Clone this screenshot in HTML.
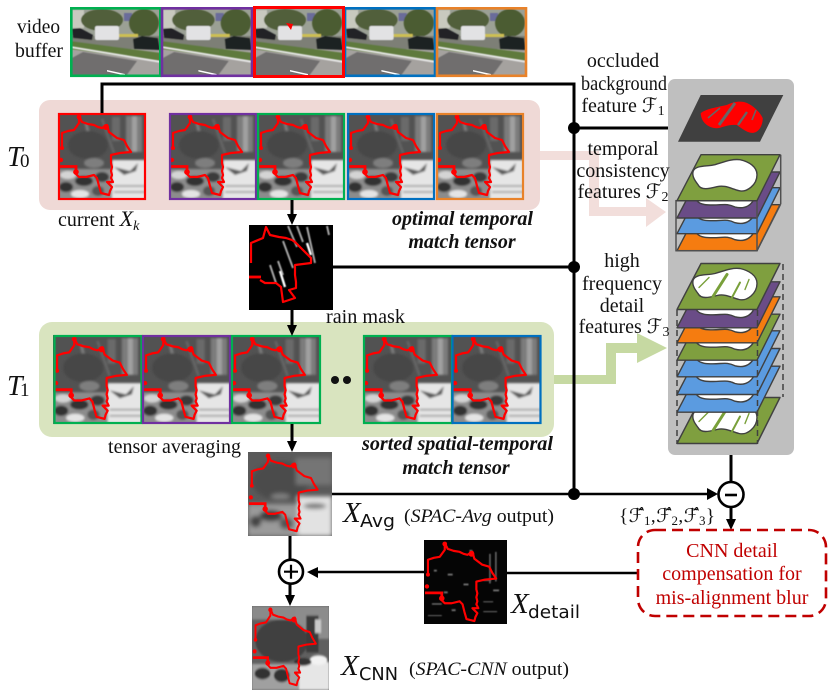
<!DOCTYPE html>
<html>
<head>
<meta charset="utf-8">
<style>
html,body{margin:0;padding:0;background:#fff}
svg{display:block}
text{font-family:"Liberation Serif","DejaVu Serif",serif;font-size:20px;fill:#111}
.bi{font-weight:bold;font-style:italic;font-size:20px}
.i{font-style:italic}
.f{font-family:"Liberation Serif","DejaVu Sans",serif}
.sub{font-family:"DejaVu Sans","Liberation Sans",sans-serif}
.r{fill:#c00000}
</style>
</head>
<body>
<svg width="832" height="698" viewBox="0 0 832 698" xmlns="http://www.w3.org/2000/svg">
<defs>
<filter id="b1" x="-10%" y="-10%" width="120%" height="120%"><feGaussianBlur stdDeviation="1"/></filter>
<filter id="b2" x="-10%" y="-10%" width="120%" height="120%"><feGaussianBlur stdDeviation="2.2"/></filter>
<filter id="b05" x="-10%" y="-10%" width="120%" height="120%"><feGaussianBlur stdDeviation="0.5"/></filter>

<g id="outline">
 <polyline fill="none" stroke="#ff0000" stroke-width="2.2" stroke-linejoin="round" points="4,36 4,20 10,18 16,17 21,10 21,3 24,9 30,11 36,12 40,14 44,15 49,12 51,19 55,22 59,25 66,27 69,33 73,39 62,40 53,42 53,50 54,54 53,58 54,62 53,65 55,69 49,69 54,74 52,78 51,82 43,80 41,73 39,65 36,62 28,64 21,64 16,59"/>
 <path d="M1,53.5 H18 V58" fill="none" stroke="#ff0000" stroke-width="2.8"/>
 <circle cx="4" cy="35" r="2" fill="#ff0000"/><circle cx="3" cy="47" r="2.2" fill="#ff0000"/>
 <circle cx="21" cy="4" r="2.4" fill="#ff0000"/><circle cx="48" cy="14" r="3" fill="#ff0000"/>
 <circle cx="18" cy="59" r="2.8" fill="#ff0000"/>
</g>

<symbol id="patch" viewBox="0 0 88 87" preserveAspectRatio="none">
 <rect width="88" height="87" fill="#525252"/>
 <g filter="url(#b1)">
  <rect x="68" y="3" width="16" height="36" fill="#7c7c7c"/>
  <rect x="74" y="3" width="5" height="36" fill="#a0a0a0"/>
  <rect x="54" y="4" width="8" height="24" fill="#6a6a6a"/>
  <path d="M28,10 L38,52" stroke="#7c7c7c" stroke-width="3"/>
  <path d="M44,6 L56,40" stroke="#6a6a6a" stroke-width="2"/>
  <ellipse cx="30" cy="32" rx="20" ry="14" fill="#464646"/>
  <ellipse cx="36" cy="50" rx="10" ry="5" fill="#7e7e7e"/>
  <rect x="54" y="47" width="34" height="40" fill="#e6e6e6"/>
  <path d="M56,54 L72,58 L80,50 L78,58 L66,62Z" fill="#5a5a5a"/>
  <rect x="0" y="56" width="54" height="31" fill="#8c8c8c"/>
  <ellipse cx="10" cy="62" rx="8" ry="4" fill="#d4d4d4"/>
  <ellipse cx="26" cy="68" rx="9" ry="5" fill="#333"/>
  <ellipse cx="8" cy="74" rx="7" ry="5" fill="#333"/>
  <ellipse cx="44" cy="64" rx="7" ry="5" fill="#3a3a3a"/>
  <ellipse cx="22" cy="81" rx="9" ry="4" fill="#e4e4e4"/>
  <ellipse cx="40" cy="78" rx="6" ry="5" fill="#555"/>
  <rect x="56" y="72" width="32" height="2" fill="#aaa"/><rect x="56" y="78" width="32" height="2" fill="#aaa"/>
 </g>
 <use href="#outline"/>
</symbol>

<symbol id="avg" viewBox="0 0 88 87" preserveAspectRatio="none">
 <rect width="88" height="87" fill="#5a5a5a"/>
 <g filter="url(#b2)">
  <ellipse cx="34" cy="30" rx="30" ry="20" fill="#4c4c4c"/>
  <rect x="50" y="6" width="38" height="28" fill="#747474"/>
  <rect x="52" y="46" width="36" height="41" fill="#e2e2e2"/>
  <rect x="0" y="54" width="52" height="33" fill="#9a9a9a"/>
  <ellipse cx="24" cy="66" rx="12" ry="6" fill="#3c3c3c"/>
  <ellipse cx="8" cy="72" rx="6" ry="6" fill="#444"/>
  <ellipse cx="40" cy="74" rx="7" ry="6" fill="#555"/>
  <ellipse cx="70" cy="56" rx="12" ry="3" fill="#777"/>
  <ellipse cx="34" cy="46" rx="10" ry="3" fill="#808080"/>
 </g>
 <use href="#outline"/>
</symbol>

<symbol id="cnn" viewBox="0 0 88 87" preserveAspectRatio="none">
 <rect width="88" height="87" fill="#606060"/>
 <g filter="url(#b1)">
  <rect x="0" y="0" width="88" height="14" fill="#8a8a8a"/>
  <rect x="50" y="0" width="38" height="34" fill="#8c8c8c"/>
  <ellipse cx="34" cy="36" rx="30" ry="22" fill="#404040"/>
  <rect x="62" y="10" width="14" height="38" fill="#3a3a3a"/>
  <rect x="72" y="14" width="7" height="14" fill="#c8c8c8"/>
  <rect x="52" y="58" width="36" height="29" fill="#e6e6e6"/>
  <ellipse cx="76" cy="56" rx="10" ry="5" fill="#f2f2f2"/>
  <ellipse cx="58" cy="58" rx="10" ry="4" fill="#333"/>
  <rect x="0" y="60" width="54" height="27" fill="#a0a0a0"/>
  <ellipse cx="12" cy="70" rx="9" ry="6" fill="#333"/>
  <ellipse cx="34" cy="72" rx="9" ry="7" fill="#333"/>
 </g>
 <use href="#outline"/>
</symbol>

<symbol id="mask" viewBox="0 0 84 85" preserveAspectRatio="none">
 <rect width="84" height="85" fill="#000"/>
 <g stroke="#a5a5a5" stroke-width="2" fill="none" filter="url(#b05)">
  <path d="M39,1 L48,22 M48,1 L54,17 M58,2 L66,38 M34,16 L44,43 M78,1 L80,10"/>
  <path d="M21,40 L27,58 M29,36 L34,50"/>
 </g>
 <path d="M58,18 L62,30 M31,46 L36,62" stroke="#fff" stroke-width="2.4" filter="url(#b05)"/>
 <g fill="none" stroke="#ff0000" stroke-width="2.2" stroke-linejoin="round">
  <polyline points="2,38 2,18 14,13 17,2 21,10 30,12 37,13 43,15 46,17 52,23 62,33 62,38 46,40 46,50 47,57 47,63 40,65 46,73 34,77 32,62 27,58 16,58 11,55"/>
  <path d="M0,52 H12" stroke-width="2.8"/>
 </g>
</symbol>

<symbol id="detail" viewBox="0 0 84 85" preserveAspectRatio="none">
 <rect width="84" height="85" fill="#050505"/>
 <g fill="#6a6a6a" filter="url(#b05)">
  <rect x="66" y="14" width="1.5" height="30"/><rect x="72" y="12" width="1.5" height="30"/>
  <rect x="46" y="10" width="3" height="2"/><rect x="24" y="34" width="5" height="2"/>
  <rect x="60" y="40" width="8" height="1.5"/><rect x="20" y="52" width="4" height="2"/>
  <rect x="40" y="44" width="5" height="2"/><rect x="10" y="30" width="3" height="2"/>
  <rect x="60" y="62" width="10" height="1"/><rect x="60" y="72" width="14" height="1"/>
  <rect x="70" y="50" width="6" height="2"/><rect x="28" y="70" width="4" height="2"/>
  <rect x="8" y="64" width="10" height="1.5"/><rect x="4" y="76" width="14" height="1"/>
 </g>
 <use href="#outline"/>
</symbol>

<symbol id="photo" viewBox="0 0 91 68" preserveAspectRatio="none">
 <rect width="91" height="68" fill="#a5a29f"/>
 <rect width="91" height="31" fill="#9ba095"/>
 <g filter="url(#b05)">
  <rect x="2" y="2" width="12" height="18" fill="#c8c9bf"/>
  <rect x="54" y="5" width="8" height="8" fill="#6a6c9a"/>
  <ellipse cx="32" cy="12" rx="21" ry="11" fill="#515f3a"/>
  <ellipse cx="74" cy="15" rx="15" ry="14" fill="#4c5c32"/>
  <rect x="0" y="28" width="91" height="13" fill="#7d7f76"/>
  <rect x="46" y="26" width="22" height="3" fill="#cdbf52"/>
  <path d="M2,21 L10,20 L23,27 L22,32 L3,30Z" fill="#232428"/>
  <rect x="25" y="18" width="24" height="14" rx="2" fill="#e2e2e4"/>
  <path d="M63,31 L72,28 L88,30 L90,42 L64,41Z" fill="#1e2022"/>
  <path d="M0,33 L91,45 L91,53 L0,41Z" fill="#5f7a3c"/>
 </g>
 <path d="M0,40 L91,55 L91,53 L0,38Z" fill="#e6e6e6" filter="url(#b05)"/>
 <path d="M13,44 L67,53 L56,68 L0,68 L2,50Z" fill="#706e6e" filter="url(#b05)"/>
 <path d="M37,62 L55,66 L55,67.5 L37,63.5Z" fill="#fff"/>
</symbol>

<polygon id="pl" points="24,0 103,0 80,46 0,46" stroke="#404040" stroke-width="1.4" stroke-linejoin="round"/>
<path id="blob" d="M16,17 C18,10 30,12 38,10 C48,7 55,4 63,5 C72,7 80,12 80,20 C80,30 70,38 62,36 C54,34 48,30 40,32 C32,34 24,36 21,30 C18,26 15,22 16,17 Z" fill="#fff" stroke="#404040" stroke-width="1.4"/>
<path id="ub" d="M20,29 C24,33 30,33 36,33 C46,33 50,31 58,35 C66,37 72,35 76,29 L76,20 L20,20 Z" fill="#fff" stroke="#404040" stroke-width="1.4"/>
<g id="strk" stroke="#79a03a" fill="none" stroke-linecap="round">
 <path d="M22,24 L32,14" stroke-width="1.4"/>
 <path d="M36,33 L50,11" stroke-width="3"/>
 <path d="M55,34 L63,19" stroke-width="2"/>
 <path d="M68,26 L72,16" stroke-width="1.4"/>
</g>
</defs>

<!-- video buffer -->
<text x="17" y="33" textLength="43" lengthAdjust="spacingAndGlyphs">video</text>
<text x="15" y="57" textLength="48" lengthAdjust="spacingAndGlyphs">buffer</text>
<use href="#photo" x="70" y="8" width="91" height="68"/>
<use href="#photo" x="161" y="8" width="92" height="68"/>
<use href="#photo" x="253" y="8" width="91" height="68"/>
<use href="#photo" x="344" y="8" width="92" height="68"/>
<use href="#photo" x="436" y="8" width="91" height="68"/>
<g fill="none" stroke-width="2.6">
 <rect x="71.3" y="8.3" width="89" height="67.5" stroke="#00b050"/>
 <rect x="162" y="8.3" width="90" height="67.5" stroke="#7030a0"/>
 <rect x="345" y="8.3" width="90" height="67.5" stroke="#0070c0"/>
 <rect x="437" y="8.3" width="89" height="67.5" stroke="#e8822a"/>
 <rect x="254.5" y="7.5" width="89" height="69" stroke="#ff0000" stroke-width="3"/>
</g>
<path d="M286,23 L293,24 L291,30 Z" fill="#ff0000"/>

<!-- pink arrow behind -->
<path d="M530,151 H599 V207 H646 V198 L666,212 L646,227 V216 H589 V160 H530 Z" fill="#f2dedb"/>
<!-- T0 panel -->
<rect x="39" y="100" width="501" height="110" rx="11" fill="#efd9d6"/>
<text class="i" x="7" y="166" style="font-size:28px">T</text>
<text x="20" y="167" style="font-size:19px">0</text>

<use href="#patch" x="58" y="113" width="88" height="87"/>
<use href="#patch" x="169" y="113" width="88" height="87"/>
<use href="#patch" x="257" y="113" width="88" height="87"/>
<use href="#patch" x="347" y="113" width="88" height="87"/>
<use href="#patch" x="436" y="113" width="88" height="87"/>
<g fill="none" stroke-width="2.2">
 <rect x="59" y="114" width="86" height="85" stroke="#ff0000"/>
 <rect x="170" y="114" width="86" height="85" stroke="#7030a0"/>
 <rect x="258" y="114" width="86" height="85" stroke="#00b050"/>
 <rect x="348" y="114" width="86" height="85" stroke="#0070c0"/>
 <rect x="437" y="114" width="86" height="85" stroke="#e8822a"/>
</g>
<text x="58" y="226">current <tspan class="i" style="font-size:22px">X</tspan><tspan class="i" dy="4" style="font-size:14px">k</tspan></text>
<text class="bi" x="392" y="225" textLength="141" lengthAdjust="spacingAndGlyphs">optimal temporal</text>
<text class="bi" x="462" y="248" text-anchor="middle">match tensor</text>

<!-- green arrow -->
<path d="M545,375 H606 V343 H637 V333 L667,348 L637,363 V353 H616 V384 H545 Z" fill="#c6d9a2"/>
<!-- T1 panel -->
<rect x="39" y="322" width="515" height="115" rx="13" fill="#d9e4bf"/>
<text class="i" x="7" y="395" style="font-size:28px">T</text>
<text x="20" y="396" style="font-size:19px">1</text>

<use href="#patch" x="53" y="335" width="89" height="89"/>
<use href="#patch" x="142" y="335" width="89" height="89"/>
<use href="#patch" x="231" y="335" width="89" height="89"/>
<use href="#patch" x="363" y="335" width="89" height="89"/>
<use href="#patch" x="452" y="335" width="89" height="89"/>
<g fill="none" stroke-width="2.2">
 <rect x="54.5" y="336" width="87" height="87" stroke="#00b050"/>
 <rect x="143" y="336" width="87" height="87" stroke="#7030a0"/>
 <rect x="232" y="336" width="88" height="87" stroke="#00b050"/>
 <rect x="364" y="336" width="88" height="87" stroke="#00b050"/>
 <rect x="452.5" y="336" width="88" height="87" stroke="#0070c0"/>
</g>
<circle cx="335" cy="380" r="4" fill="#111"/>
<circle cx="347" cy="380" r="4" fill="#111"/>
<text x="108" y="453" textLength="133" lengthAdjust="spacingAndGlyphs">tensor averaging</text>
<text class="bi" x="362" y="450" textLength="191" lengthAdjust="spacingAndGlyphs">sorted spatial-temporal</text>
<text class="bi" x="456" y="474" text-anchor="middle">match tensor</text>
<text x="326" y="323" textLength="79" lengthAdjust="spacingAndGlyphs">rain mask</text>

<!-- images -->
<use href="#mask" x="249" y="225" width="84" height="85"/>
<use href="#avg" x="248" y="452" width="84" height="84"/>
<use href="#detail" x="424" y="540" width="83" height="84"/>
<use href="#cnn" x="252" y="606" width="77" height="84"/>

<!-- connectors -->
<g stroke="#000" stroke-width="3" fill="none">
 <path d="M102,113 V84 H574 V494"/>
 <path d="M574,128 H668"/>
 <path d="M333,267 H574"/>
 <path d="M292,200 V216"/>
 <path d="M292,310 V327"/>
 <path d="M292,424 V442"/>
 <path d="M332,494 H709" stroke-width="2.6"/>
 <path d="M731,455 V482"/>
 <path d="M731,507 V520"/>
 <path d="M290,536 V559"/>
 <path d="M290,584 V596"/>
 <path d="M507,573 H638" stroke-width="2.4"/>
 <path d="M424,572 H317" stroke-width="2.4"/>
</g>
<g fill="#000">
 <polygon points="287,214 297,214 292,225"/>
 <polygon points="287,325 297,325 292,336"/>
 <polygon points="287,441 297,441 292,452"/>
 <polygon points="707,488 707,500 718,494"/>
 <polygon points="726,519 736,519 731,530"/>
 <polygon points="285,595 295,595 290,606"/>
 <polygon points="318,567 318,578 307,572"/>
 <circle cx="574" cy="128" r="6"/>
 <circle cx="574" cy="267" r="6"/>
 <circle cx="574" cy="494" r="6"/>
</g>

<!-- feature panel -->
<rect x="668" y="79" width="126" height="376" rx="7" fill="#bfbfbf"/>
<polygon points="700.7,95 783.3,95 760,141.7 678,141.7" fill="#404040"/>
<path d="M700.7,113.3 C705,109 718,107 726.7,105 C733,102 738,101 744,102 C752,104 760,112 762.7,118 C763,124 760,130 756,132 C750,135 744,130 736.7,125 C728,124 722,128 716.7,128.3 C708,128 701,122 700.7,113.3 Z" fill="#ff0000"/>
<g stroke="#666" fill="none">
 <path d="M708,118 L720,108" stroke-width="1.6"/>
 <path d="M719,125 L735,103" stroke-width="3"/>
 <path d="M738,125 L747,112" stroke-width="2.4"/>
 <path d="M752,120 L756,110" stroke-width="1.6"/>
</g>

<!-- stack 2 -->
<g>
 <g transform="translate(677,204.7)"><use href="#pl" fill="#f57c10"/><use href="#ub"/></g>
 <g transform="translate(677,187.7)"><use href="#pl" fill="#5b9be0"/><use href="#ub"/></g>
 <g transform="translate(677,172)"><use href="#pl" fill="#6a4c87"/><use href="#ub"/></g>
 <g fill="none" stroke="#505050" stroke-width="1.5">
  <rect x="676" y="200.7" width="81" height="50"/>
  <path d="M780.7,154.7 V204"/>
  <path d="M757,250.7 L780.7,204"/>
 </g>
 <g transform="translate(677,154.7)"><use href="#pl" fill="#7f9f3f"/><use href="#blob"/></g>
</g>

<!-- stack 3 -->
<g>
 <g transform="translate(677,397.5)"><use href="#pl" fill="#7f9f3f"/><use href="#blob"/><use href="#strk"/></g>
 <g transform="translate(677,366.2)"><use href="#pl" fill="#5b9be0"/><use href="#ub"/></g>
 <g transform="translate(677,348.5)"><use href="#pl" fill="#5b9be0"/><use href="#ub"/></g>
 <g transform="translate(677,330.8)"><use href="#pl" fill="#5b9be0"/><use href="#ub"/></g>
 <g transform="translate(677,314.2)"><use href="#pl" fill="#7f9f3f"/><use href="#ub"/></g>
 <g transform="translate(677,296.8)"><use href="#pl" fill="#f57c10"/><use href="#ub"/></g>
 <g transform="translate(677,281.8)"><use href="#pl" fill="#6a4c87"/><use href="#ub"/></g>
 <g fill="none" stroke="#404040" stroke-width="1.5" stroke-dasharray="6 4">
  <path d="M677,310 V444"/>
  <path d="M757.5,310 V444"/>
  <path d="M783,264 V397"/>
 </g>
 <g transform="translate(677,263.5)"><use href="#pl" fill="#7f9f3f"/><use href="#blob"/><use href="#strk"/></g>
</g>

<!-- right labels -->
<g text-anchor="middle">
 <text x="623" y="67">occluded</text>
 <text x="624" y="90" textLength="86" lengthAdjust="spacingAndGlyphs">background</text>
 <text x="623" y="112">feature <tspan class="i f">ℱ</tspan><tspan dy="3" style="font-size:14px">1</tspan></text>
 <text x="623" y="155">temporal</text>
 <text x="623" y="177">consistency</text>
 <text x="623" y="198">features <tspan class="i f">ℱ</tspan><tspan dy="3" style="font-size:14px">2</tspan></text>
 <text x="622" y="267">high</text>
 <text x="622" y="290">frequency</text>
 <text x="622" y="312">detail</text>
 <text x="624" y="333">features <tspan class="i f">ℱ</tspan><tspan dy="3" style="font-size:14px">3</tspan></text>
</g>

<!-- circles -->
<circle cx="731" cy="494.5" r="12.5" fill="#fff" stroke="#000" stroke-width="2.6"/>
<path d="M725,495 H737" stroke="#000" stroke-width="2.6"/>
<circle cx="291" cy="571.7" r="12" fill="#fff" stroke="#000" stroke-width="2.6"/>
<path d="M284,571.7 H298 M291,564.7 V578.7" stroke="#000" stroke-width="2.2"/>

<!-- math labels -->
<text class="i" x="343" y="522" style="font-size:29px">X</text>
<text class="sub" x="360" y="527" textLength="35" lengthAdjust="spacingAndGlyphs" style="font-size:18px">Avg</text>
<text x="404" y="522" textLength="150" lengthAdjust="spacingAndGlyphs" style="font-size:19px">(<tspan class="i">SPAC-Avg</tspan> output)</text>
<text x="619" y="522" textLength="96" style="font-size:19px">{<tspan class="i f">ℱ̂</tspan><tspan dy="3" style="font-size:13px">1</tspan><tspan dy="-3">,</tspan><tspan class="i f">ℱ̂</tspan><tspan dy="3" style="font-size:13px">2</tspan><tspan dy="-3">,</tspan><tspan class="i f">ℱ̂</tspan><tspan dy="3" style="font-size:13px">3</tspan><tspan dy="-3">}</tspan></text>

<text class="i" x="511" y="613" style="font-size:29px">X</text>
<text class="sub" x="528" y="618" textLength="52" lengthAdjust="spacingAndGlyphs" style="font-size:18px">detail</text>

<text class="i" x="341" y="675" style="font-size:29px">X</text>
<text class="sub" x="359" y="680" textLength="39" lengthAdjust="spacingAndGlyphs" style="font-size:18px">CNN</text>
<text x="409" y="675" textLength="160" lengthAdjust="spacingAndGlyphs" style="font-size:19px">(<tspan class="i">SPAC-CNN</tspan> output)</text>

<!-- CNN box -->
<rect x="638" y="530" width="188" height="86" rx="17" fill="#fff" stroke="#c00000" stroke-width="2.6" stroke-dasharray="11 6"/>
<g text-anchor="middle">
 <text class="r" x="732" y="557">CNN detail</text>
 <text class="r" x="732" y="580">compensation for</text>
 <text class="r" x="732" y="604">mis-alignment blur</text>
</g>
</svg>
</body>
</html>
